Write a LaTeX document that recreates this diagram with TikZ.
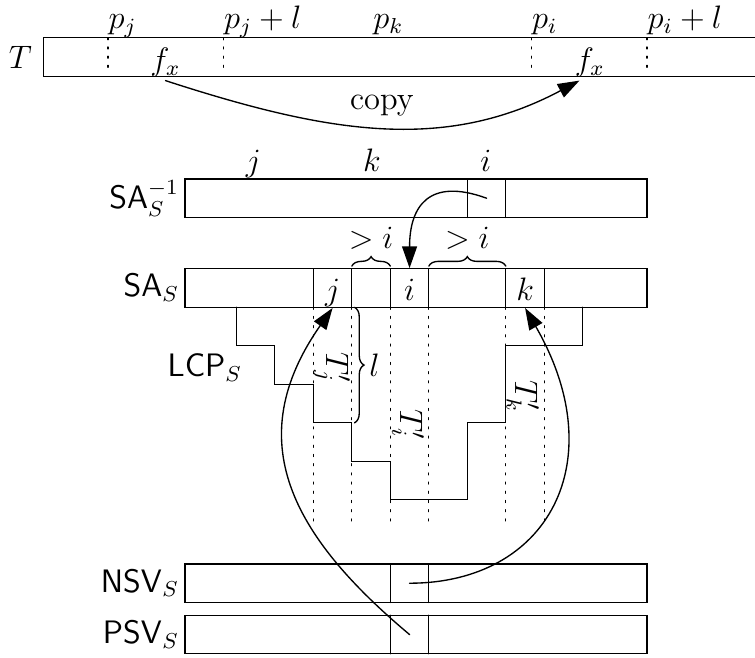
\documentclass[12pt,tikz,border=0pt]{standalone}
\usepackage{amsmath,amssymb}
\usepackage{tikz}
\usetikzlibrary{arrows.meta,decorations.pathreplacing}
\usepackage{xcolor}

\begin{document}
\begin{tikzpicture}[>={Triangle[length=8pt,width=5.5pt]},line cap=round,line width=0.5pt,
  guide/.style={dash pattern=on 0.7pt off 2.7pt},
  curly/.style={decorate,decoration={brace,amplitude=3.5pt,raise=1pt}},
  cell/.style={minimum width=0.5cm,minimum height=0.5cm,inner sep=0pt,text height=9.4pt,text depth=0pt},
  lbl/.style={left,inner sep=2pt}]
\useasboundingbox (-4.069,-4.542) rectangle (5.736,3.991);
\draw (-3.506,3) rectangle (5.9,3.5);
\node[left] (tlbl) at (-3.506,3.25) {$T$};
\draw[guide] (-2.667,3.5) -- (-2.667,3.1);
\draw[guide] (-1.167,3.5) -- (-1.167,3.1);
\draw[guide] (2.833,3.5) -- (2.833,3.1);
\draw[guide] (4.333,3.5) -- (4.333,3.1);
\node[anchor=base west,inner sep=0pt] (pj) at (-2.667,3.62) {$p_j$};
\node[anchor=base west,inner sep=0pt] (pjl) at (-1.167,3.62) {$p_j+l$};
\node[anchor=base] (pk) at (0.974,3.62) {$p_k$};
\node[anchor=base west,inner sep=0pt] (pi) at (2.833,3.62) {$p_i$};
\node[anchor=base west,inner sep=0pt] (pil) at (4.333,3.62) {$p_i+l$};
\node[anchor=base,inner sep=1pt] (fxj) at (-1.92,3.07) {$f_x$};
\node[anchor=base,inner sep=1pt] (fxi) at (3.59,3.07) {$f_x$};
\draw[->] (fxj.south) .. controls +(-18:2.2) and +(208:2.0) .. (fxi.240) node[midway,above] (copylbl) {copy};

\draw (-1.667,1.167) rectangle (4.333,1.667);
\draw (2,1.167) -- (2,1.667) (2.5,1.167) -- (2.5,1.667);
\node[lbl] (invlbl) at (-1.667,1.417) {$\mathsf{SA}^{-1}_S$};
\node[cell] (invi) at (2.25,1.417) {};
\node[anchor=base] (invj) at (-0.78,1.765) {$j$};
\node[anchor=base] (invk) at (0.76,1.765) {$k$};
\node[anchor=base] (invii) at (2.24,1.765) {$i$};

\draw (-1.667,0) rectangle (4.333,0.5);
\foreach \x in {0,0.5,1,1.5,2.5,3} \draw (\x,0) -- (\x,0.5);
\node[lbl] (salbl) at (-1.667,0.25) {$\mathsf{SA}_S$};
\node[cell] (saj) at (0.25,0.25) {$j$};
\node[cell] (sai) at (1.25,0.25) {$i$};
\node[cell] (sak) at (2.75,0.25) {$k$};
\draw[curly] (0.5,0.5) -- (1,0.5) node[midway,above=3pt] (gtl) {$>i$};
\draw[curly] (1.5,0.5) -- (2.5,0.5) node[midway,above=3pt] (gtr) {$>i$};

\draw (-1,0) -- (-1,-0.5) -- (-0.5,-0.5) -- (-0.5,-1) -- (0,-1) -- (0,-1.5) -- (0.5,-1.5) -- (0.5,-2)
  -- (1,-2) -- (1,-2.5) -- (2,-2.5) -- (2,-1.5) -- (2.5,-1.5) -- (2.5,-0.5) -- (3.5,-0.5) -- (3.5,0);
\node (lcplbl) at (-1.41,-0.79) {$\mathsf{LCP}_S$};
\foreach \x in {0,0.5,1,1.5,2.5,3} \draw[guide] (\x,0) -- (\x,-2.83);
\draw[curly] (0.5,0) -- (0.5,-1.5) node[midway,right=2.2pt] (ll) {$l$};
\node[rotate=-90] (tj) at (0.24,-0.78) {$T'_j$};
\node[rotate=-90] (ti) at (1.23,-1.53) {$T'_i$};
\node[rotate=-90] (tk) at (2.72,-1.16) {$T'_k$};

\draw (-1.667,-3.833) rectangle (4.333,-3.333);
\draw (1,-3.833) -- (1,-3.333) (1.5,-3.833) -- (1.5,-3.333);
\node[lbl] (nsvlbl) at (-1.667,-3.583) {$\mathsf{NSV}_S$};
\node[cell] (nsvi) at (1.25,-3.583) {};
\draw (-1.667,-4.5) rectangle (4.333,-4);
\draw (1,-4.5) -- (1,-4) (1.5,-4.5) -- (1.5,-4);
\node[lbl] (psvlbl) at (-1.667,-4.25) {$\mathsf{PSV}_S$};
\node[cell] (psvi) at (1.25,-4.25) {};

\draw[->] (invi.center) .. controls +(160:0.8) and +(90:0.8) .. (sai.north);
\draw[->] (psvi.center) .. controls +(140:2.0) and +(235:2.1) .. (saj.south);
\draw[->] (nsvi.center) .. controls +(0:1.8) and +(300:2.3) .. (sak.south);
\end{tikzpicture}
\end{document}
